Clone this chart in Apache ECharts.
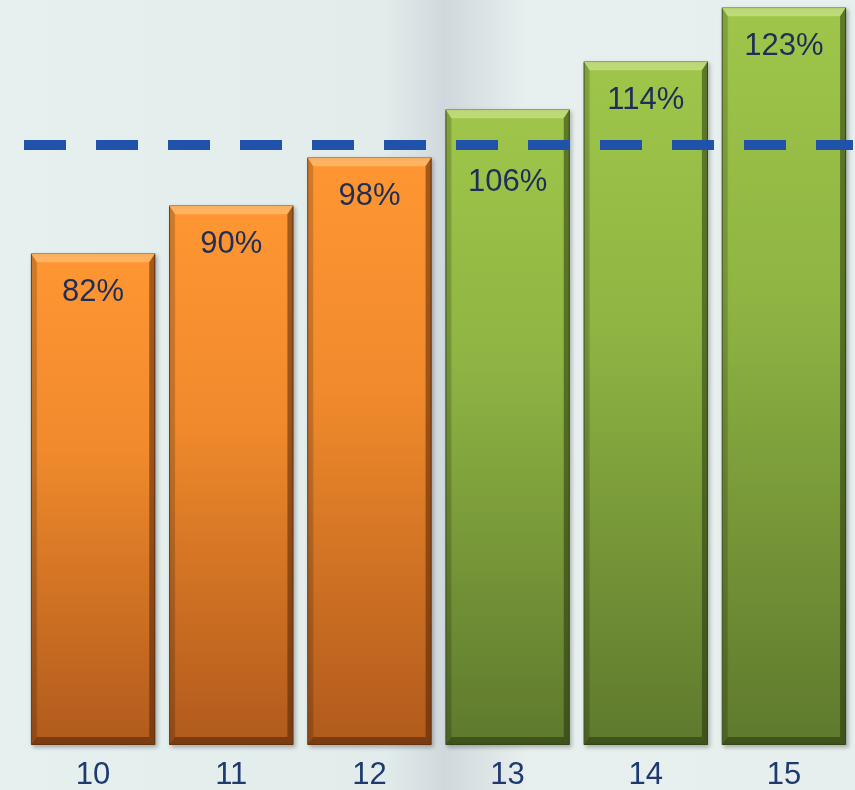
<!DOCTYPE html>
<html>
<head>
<meta charset="utf-8">
<script src="https://cdn.jsdelivr.net/npm/echarts@6/dist/echarts.min.js"></script>
<style>
html,body{margin:0;padding:0;background:#e3eeee;}
#c{width:855px;height:790px;}
</style>
</head>
<body>
<div id="c"></div>
<script>
var categories = ['10', '11', '12', '13', '14', '15'];
var values = [82, 90, 98, 106, 114, 123];
var groups = ['orange', 'orange', 'orange', 'green', 'green', 'green'];
var target = 100;

var palette = {
  orange: {top: '#ff9633', mid: '#f08a2c', bottom: '#b05a1c', light: 'rgba(255,200,130,0.6)', dark: 'rgba(70,30,5,0.5)', border: '#8a4312'},
  green: {top: '#9fc64a', mid: '#8fb443', bottom: '#5e792d', light: 'rgba(210,235,150,0.6)', dark: 'rgba(30,45,10,0.5)', border: '#4a5f20'}
};

function fillFor(g) {
  var p = palette[g];
  return new echarts.graphic.LinearGradient(0, 0, 0, 1, [
    {offset: 0, color: p.top}, {offset: 0.4, color: p.mid}, {offset: 1, color: p.bottom}
  ]);
}

var data = values.map(function (v, i) {
  var d = {
    value: v,
    itemStyle: {color: fillFor(groups[i]), borderColor: palette[groups[i]].border, borderWidth: 1,
      shadowColor: 'rgba(0,0,0,0.25)', shadowBlur: 4, shadowOffsetX: 2, shadowOffsetY: 2}
  };
  if (v === 106) d.label = {distance: 58};
  return d;
});

function renderBevel(params, api) {
  var i = api.value(0);
  var v = api.value(1);
  var top = api.coord([i, v]);
  var base = api.coord([i, 0]);
  var w = api.size([1, 0])[0] * 0.9;
  var x0 = top[0] - w / 2, x1 = top[0] + w / 2;
  var y0 = top[1], y1 = base[1];
  var b = 9, s = 6, bb = 8;
  var p = palette[groups[i]];
  return {
    type: 'group',
    children: [
      {type: 'polygon', shape: {points: [[x0, y0], [x1, y0], [x1 - s, y0 + b], [x0 + s, y0 + b]]},
        style: {fill: p.light}},
      {type: 'polygon', shape: {points: [[x1, y0], [x1, y1], [x1 - s, y1 - bb], [x1 - s, y0 + b]]},
        style: {fill: p.dark}},
      {type: 'polygon', shape: {points: [[x0, y0], [x0, y1], [x0 + s, y1 - bb], [x0 + s, y0 + b]]},
        style: {fill: 'rgba(0,0,0,0.15)'}},
      {type: 'polygon', shape: {points: [[x0, y1], [x1, y1], [x1 - s, y1 - bb], [x0 + s, y1 - bb]]},
        style: {fill: p.dark}}
    ]
  };
}

var chart = echarts.init(document.getElementById('c'));
chart.setOption({
  backgroundColor: new echarts.graphic.LinearGradient(0, 0, 1, 0, [
    {offset: 0, color: '#e6f0ef'}, {offset: 0.45, color: '#e2eceb'}, {offset: 0.52, color: '#d0d8dd'}, {offset: 0.62, color: '#e8f0ef'}, {offset: 1, color: '#e6eeee'}
  ]),
  animation: false,
  grid: {left: 24, right: 2, top: 0, bottom: 45, outerBoundsMode: 'none', containLabel: false},
  xAxis: {
    type: 'category', data: categories,
    axisLine: {show: false}, axisTick: {show: false},
    axisLabel: {color: '#1f3a6e', fontSize: 31, fontFamily: 'Liberation Sans', margin: 15}
  },
  yAxis: {type: 'value', min: 0, max: 124.2, show: false, splitLine: {show: false}},
  series: [{
    type: 'bar', data: data, barCategoryGap: '10%', z: 2,
    label: {show: true, position: 'insideTop', distance: 24, formatter: '{c}%',
      color: '#1d2f58', fontSize: 31, fontFamily: 'Liberation Sans'},
    markLine: {
      silent: true, symbol: 'none', label: {show: false}, z: 5,
      lineStyle: {color: '#1f52a8', width: 10, type: [42, 30], opacity: 1},
      data: [{yAxis: target}]
    }
  }, {
    type: 'custom', z: 3, silent: true,
    data: values.map(function (v, i) { return [i, v]; }),
    encode: {x: 0, y: 1},
    renderItem: renderBevel
  }]
});
</script>
</body>
</html>
